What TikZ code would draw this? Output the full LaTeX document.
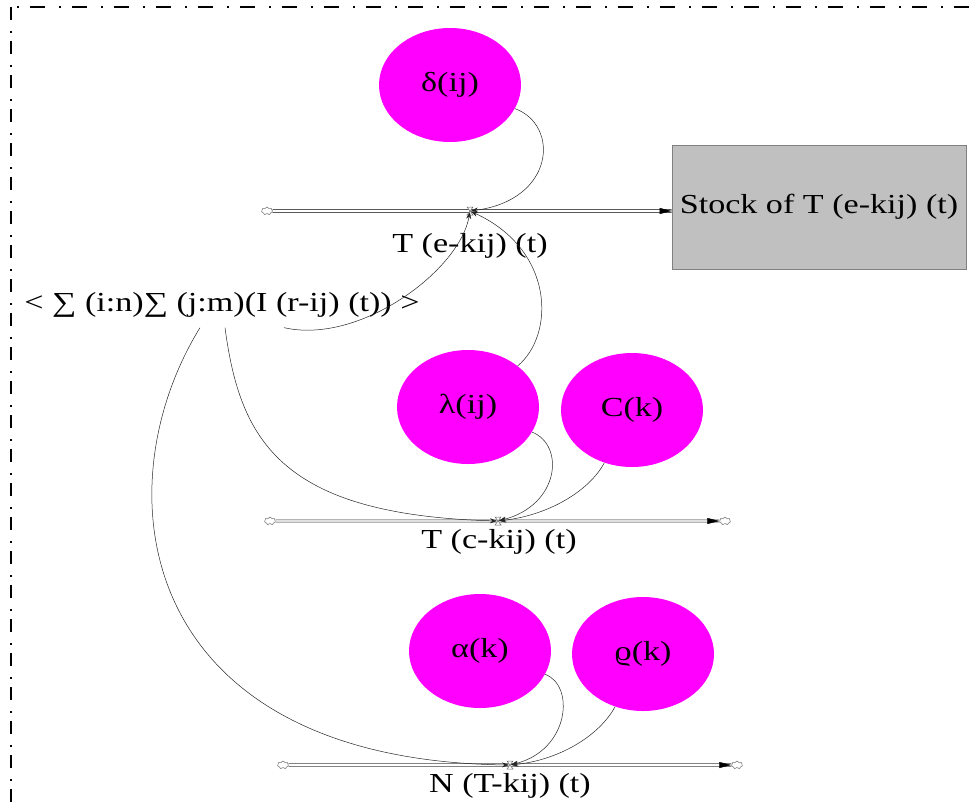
\documentclass[tikz,border=0pt]{standalone}
\usepackage{fontspec}
\setmainfont[FakeStretch=1.24]{Liberation Serif}
\usetikzlibrary{shapes.geometric,shapes.symbols,arrows.meta,decorations.markings}
\definecolor{auxfill}{RGB}{255,0,255}
\definecolor{stockfill}{RGB}{192,192,192}
\begin{document}
\begin{tikzpicture}[x=1pt,y=-1pt,
  every node/.style={font=\fontsize{27.5}{32}\selectfont},
  aux/.style={ellipse, fill=auxfill, minimum width=142pt, minimum height=114pt, inner sep=0pt},
  stockbox/.style={rectangle, fill=stockfill, draw=black!50, line width=0.8pt, minimum width=294pt, minimum height=124pt, inner sep=0pt},
  lbl/.style={inner sep=0pt},
  srclbl/.style={inner xsep=0pt, inner ysep=10pt},
  cloudnode/.style={cloud, cloud puffs=7, aspect=1.4, draw=black!50, line width=0.6pt, minimum width=11pt, minimum height=8pt, inner sep=0pt},
  link/.style={line width=0.5pt, draw=black!85, -{Stealth[length=7pt,width=5pt]}, shorten >=1pt},
  pipetop/.style={draw=black, double=white, line width=0.9pt, double distance=1.6pt},
  pipemid/.style={draw=black!45, double=black!12, line width=0.8pt, double distance=1.6pt},
  pipebot/.style={draw=black!75, double=white, line width=0.8pt, double distance=1.6pt},
  pipetip/.style={decoration={markings, mark=at position 1 with {\arrow{Triangle[length=12pt,width=6pt]}}}, decorate},
  hourglass/.pic={\draw[black!60, line width=0.5pt, fill=white] (-3,-4) -- (3,-4) -- (-3,4) -- (3,4) -- cycle;},
  frame/.style={line width=1.6pt, black}
]
\useasboundingbox (0,0) rectangle (976,808);

% frame (dash-dot, top and left)
\draw[frame, dash pattern=on 15pt off 14pt on 2pt off 11pt, dash phase=23pt] (11,7) -- (976,7);
\draw[frame, dash pattern=on 13pt off 11pt on 2pt off 8pt] (11,7) -- (11,808);

% auxiliaries
\node[aux] (delta) at (450,85) {δ(ij)};
\node[aux] (lambda) at (468,407) {λ(ij)};
\node[aux] (ck) at (632,410) {C(k)};
\node[aux] (alpha) at (480,651) {α(k)};
\node[aux] (rho) at (643,654) {ϱ(k)};

% stock
\node[stockbox] (stock) at (819,207) {Stock of T (e-kij) (t)};

% source variable
\node[srclbl] (src) at (222,305) {< ∑ (i:n)∑ (j:m)(I (r-ij) (t)) >};

% flow labels
\node[lbl] (le) at (470,246) {T (e-kij) (t)};
\node[lbl] (lc) at (499,542) {T (c-kij) (t)};
\node[lbl] (ln) at (510,786) {N (T-kij) (t)};

% valves
\coordinate (v1) at (470,211);
\coordinate (v2) at (498,521);
\coordinate (v3) at (510,765);

% clouds
\node[cloudnode] (c1) at (267,211) {};
\node[cloudnode] (c2l) at (270,521) {};
\node[cloudnode] (c2r) at (725,521) {};
\node[cloudnode] (c3l) at (283,765) {};
\node[cloudnode] (c3r) at (737,765) {};

% pipes
\draw[pipetop] (c1) -- (c1 -| stock.west);
\path[pipetip] (c1) -- (c1 -| stock.west);
\draw[pipemid] (c2l) -- (c2r);
\path[pipetip] (c2l) -- (c2r);
\draw[pipebot] (c3l) -- (c3r);
\path[pipetip] (c3l) -- (c3r);

% valve symbols
\pic at (v1) {hourglass};
\pic at (v2) {hourglass};
\pic at (v3) {hourglass};

% links
\draw[link] (delta) .. controls (560,125) and (555,200) .. (v1);
\draw[link] ([xshift=62pt]src.south) .. controls (360,345) and (460,270) .. (v1);
\draw[link] (lambda) .. controls (555,335) and (555,250) .. (v1);
\draw[link] (lambda) .. controls (565,445) and (560,505) .. (v2);
\draw[link] (ck) .. controls (590,490) and (550,515) .. (v2);
\draw[link] ([xshift=3pt]src.south) .. controls (240,440) and (280,515) .. (v2);
\draw[link] (alpha) .. controls (575,685) and (570,750) .. (v3);
\draw[link] (rho) .. controls (600,735) and (560,760) .. (v3);
\draw[link] ([xshift=-22pt]src.south) .. controls (100,490) and (135,760) .. (v3);
\end{tikzpicture}
\end{document}
